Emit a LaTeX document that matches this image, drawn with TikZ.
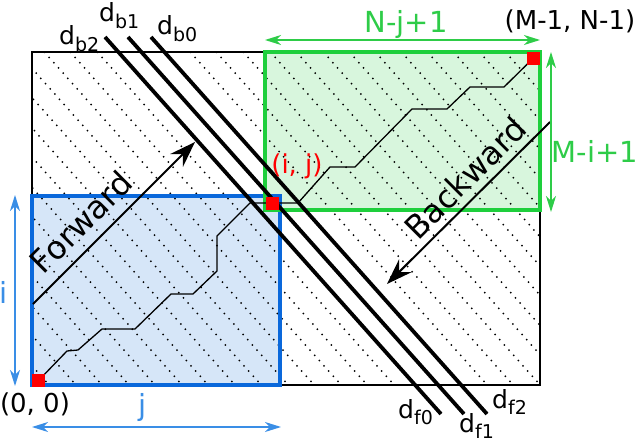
\documentclass[tikz,border=0pt]{standalone}
\usepackage{fontspec}
\setmainfont{DejaVu Sans}
\usepackage{xcolor}
\usetikzlibrary{positioning,arrows.meta}

\definecolor{blueline}{HTML}{0A68DB}
\definecolor{bluefill}{HTML}{D6E6F8}
\definecolor{dimblue}{HTML}{3A8EE6}
\definecolor{greenline}{HTML}{1ECF3C}
\definecolor{greenfill}{HTML}{D8F6DD}
\definecolor{dimgreen}{HTML}{2ECC48}
\definecolor{cellred}{HTML}{FF0000}

\newcommand{\dsub}[1]{d\raisebox{-0.25em}{\fontsize{19}{22}\selectfont #1}}

\begin{document}
\begin{tikzpicture}[x=1pt, y=-1pt,
	outerbox/.style={draw=black, line width=2pt},
	bluebox/.style={draw=blueline, line width=4.5pt},
	greenbox/.style={draw=greenline, line width=4.5pt},
	hatch/.style={line width=2pt, line cap=round, dash pattern=on 0pt off 7pt},
	diag/.style={line width=3.8pt},
	walk/.style={line width=1.3pt},
	flow/.style={line width=2pt, -{Stealth[length=26pt, width=18pt, inset=9pt]}},
	greenarrow/.style={draw=dimgreen, line width=1.3pt, {Stealth[length=16pt, width=10pt, inset=5pt]}-{Stealth[length=16pt, width=10pt, inset=5pt]}},
	bluearrow/.style={draw=dimblue, line width=1.3pt, {Stealth[length=16pt, width=10pt, inset=5pt]}-{Stealth[length=16pt, width=10pt, inset=5pt]}},
	redsq/.style={rectangle, fill=cellred, minimum size=13pt, inner sep=0pt},
	dlab/.style={anchor=base west, inner sep=0pt, font=\fontsize{25}{30}\selectfont},
	biglab/.style={anchor=base, inner sep=0pt, font=\fontsize{29}{34}\selectfont},
	ptlab/.style={anchor=base, inner sep=0pt, font=\fontsize{26}{31}\selectfont},
	dirlab/.style={rotate=45, inner sep=0pt, font=\fontsize{32}{38}\selectfont},
	]
	\useasboundingbox (0,0) rectangle (640,444);

	%Areas
	\fill[bluefill] (32,196) rectangle (280,385);
	\fill[greenfill] (265,52) rectangle (540,210);

	%Hatch
	\begin{scope}
		\clip (32,52) rectangle (540,385);
		\foreach \c in {-294,-267,-241,-214,-188,-161,-135,-108,-82,-55,-29,-2,24,51,144,170,197,224,250,277,303,329,355,381,407,433,459,485}
			\draw[hatch] (\c,0) -- ++(395.7,444);
	\end{scope}

	%Boxes
	\draw[outerbox] (32,52) rectangle (540,385);
	\draw[bluebox] (32,196) rectangle (280,385);
	\draw[greenbox] (265,52) rectangle (540,210);

	%Diagonals
	\coordinate (b2) at (105,37);
	\coordinate (b1) at (128,37);
	\coordinate (b0) at (151,37);
	\coordinate (f0) at (441,414);
	\coordinate (f1) at (464,414);
	\coordinate (f2) at (487,414);
	\draw[diag] (b2) -- (f0);
	\draw[diag] (b1) -- (f1);
	\draw[diag] (b0) -- (f2);
	\node[dlab] (lb2) at (59,45) {\dsub{b2}};
	\node[dlab] (lb1) at (99,22) {\dsub{b1}};
	\node[dlab] (lb0) at (157,35) {\dsub{b0}};
	\node[dlab] (lf0) at (398,418) {\dsub{f0}};
	\node[dlab] (lf1) at (459,432) {\dsub{f1}};
	\node[dlab] (lf2) at (492,408) {\dsub{f2}};

	%Warping path
	\coordinate (o) at (38.5,380.5);
	\coordinate (m) at (272,203);
	\coordinate (g) at (533,58.5);
	\draw[walk] (o) -- (67,351) -- (78,350) -- (102,329) -- (135,329) -- (171,294) -- (193,294) -- (217,271) -- (217,236) -- (250,203) -- (m);
	\draw[walk] (m) -- (298,203) -- (330,167) -- (355,167) -- (412,109) -- (447,109) -- (470,87) -- (504,87) -- (g);
	\node[redsq] (org) at (o) {};
	\node[redsq] (mid) at (m) {};
	\node[redsq] (goal) at (g) {};

	%Directions
	\coordinate (fwdA) at (33,304);
	\coordinate (fwdB) at (195,142);
	\coordinate (bwdA) at (550,122);
	\coordinate (bwdB) at (387,284);
	\draw[flow] (fwdA) -- (fwdB);
	\draw[flow] (bwdA) -- (bwdB);
	\node[dirlab] (fwd) at (81,222) {Forward};
	\node[dirlab] (bwd) at (465,178) {Backward};

	%Sizes
	\coordinate (gt1) at (265,40);
	\coordinate (gt2) at (540,40);
	\coordinate (gr1) at (551,52);
	\coordinate (gr2) at (551,212);
	\coordinate (bl1) at (15,195);
	\coordinate (bl2) at (15,386);
	\coordinate (bb1) at (32,427);
	\coordinate (bb2) at (281,427);
	\draw[greenarrow] (gt1) -- (gt2);
	\draw[greenarrow] (gr1) -- (gr2);
	\draw[bluearrow] (bl1) -- (bl2);
	\draw[bluearrow] (bb1) -- (bb2);
	\node[biglab, text=dimgreen] (nj) at (406,33) {N-j+1};
	\node[biglab, text=dimgreen] (mi) at (595,162) {M-i+1};
	\node[biglab, text=dimblue] (li) at (4,303) {i};
	\node[biglab, text=dimblue] (lj) at (143,415) {j};

	%Corners
	\node[ptlab] (end) at (570,30) {(M-1, N-1)};
	\node[ptlab] (start) at (35,412) {(0, 0)};
	\node[ptlab, text=cellred] (ij) at (297,173) {(i, j)};
\end{tikzpicture}
\end{document}
